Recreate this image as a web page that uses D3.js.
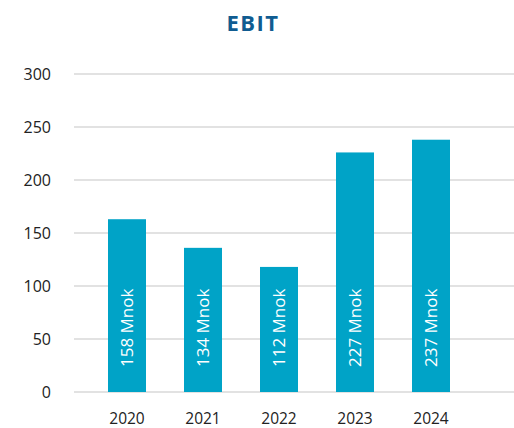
<!DOCTYPE html>
<html>
<head>
<meta charset="utf-8">
<script src="https://cdn.jsdelivr.net/npm/d3@7"></script>
<style>
  body { margin: 0; background: #fff; }
  svg text { font-family: "Open Sans", "Noto Sans", sans-serif; }
</style>
</head>
<body>
<div id="chart"></div>
<script>
// Data
var years = ["2020", "2021", "2022", "2023", "2024"];
var values = [163, 136, 118, 226, 238];
var labels = ["158 Mnok", "134 Mnok", "112 Mnok", "227 Mnok", "237 Mnok"];
var yTicks = [0, 50, 100, 150, 200, 250, 300];

var width = 514, height = 428;

var svg = d3.select("#chart").append("svg")
    .attr("width", width)
    .attr("height", height);

// Scales
var x = d3.scaleBand()
    .domain(years)
    .range([70, 488])
    .padding(0.5);

var y = d3.scaleLinear()
    .domain([0, 300])
    .range([392, 74]);

// Title
svg.append("text")
    .attr("x", 253)
    .attr("y", 31)
    .attr("text-anchor", "middle")
    .attr("font-size", 22)
    .attr("font-weight", "bold")
    .attr("letter-spacing", 1.5)
    .attr("fill", "#105c91")
    .text("EBIT");

// Gridlines
svg.selectAll(".grid")
    .data(yTicks)
    .enter().append("line")
    .attr("class", "grid")
    .attr("x1", 74)
    .attr("x2", 514)
    .attr("y1", function(d) { return y(d); })
    .attr("y2", function(d) { return y(d); })
    .attr("stroke", "#d9d9d9")
    .attr("stroke-width", 1.5);

// Y axis labels
svg.selectAll(".ytick")
    .data(yTicks)
    .enter().append("text")
    .attr("class", "ytick")
    .attr("x", 51)
    .attr("y", function(d) { return y(d); })
    .attr("dy", "0.35em")
    .attr("text-anchor", "end")
    .attr("font-size", 16)
    .attr("fill", "#222")
    .text(function(d) { return d; });

// Bars
svg.selectAll(".bar")
    .data(values)
    .enter().append("rect")
    .attr("class", "bar")
    .attr("x", function(d, i) { return x(years[i]); })
    .attr("y", function(d) { return y(d); })
    .attr("width", x.bandwidth())
    .attr("height", function(d) { return y(0) - y(d); })
    .attr("fill", "#00a3c7");

// Value labels inside bars, rotated
svg.selectAll(".vlabel")
    .data(labels)
    .enter().append("text")
    .attr("class", "vlabel")
    .attr("transform", function(d, i) {
        return "translate(" + (x(years[i]) + x.bandwidth() / 2) + "," + (y(0) - 25) + ") rotate(-90)";
    })
    .attr("dy", "0.35em")
    .attr("font-size", 17)
    .attr("fill", "#fff")
    .text(function(d) { return d; });

// X axis labels
svg.selectAll(".xtick")
    .data(years)
    .enter().append("text")
    .attr("class", "xtick")
    .attr("x", function(d) { return x(d) + x.bandwidth() / 2; })
    .attr("y", 424)
    .attr("text-anchor", "middle")
    .attr("font-size", 15.5)
    .attr("fill", "#222")
    .text(function(d) { return d; });
</script>
</body>
</html>
